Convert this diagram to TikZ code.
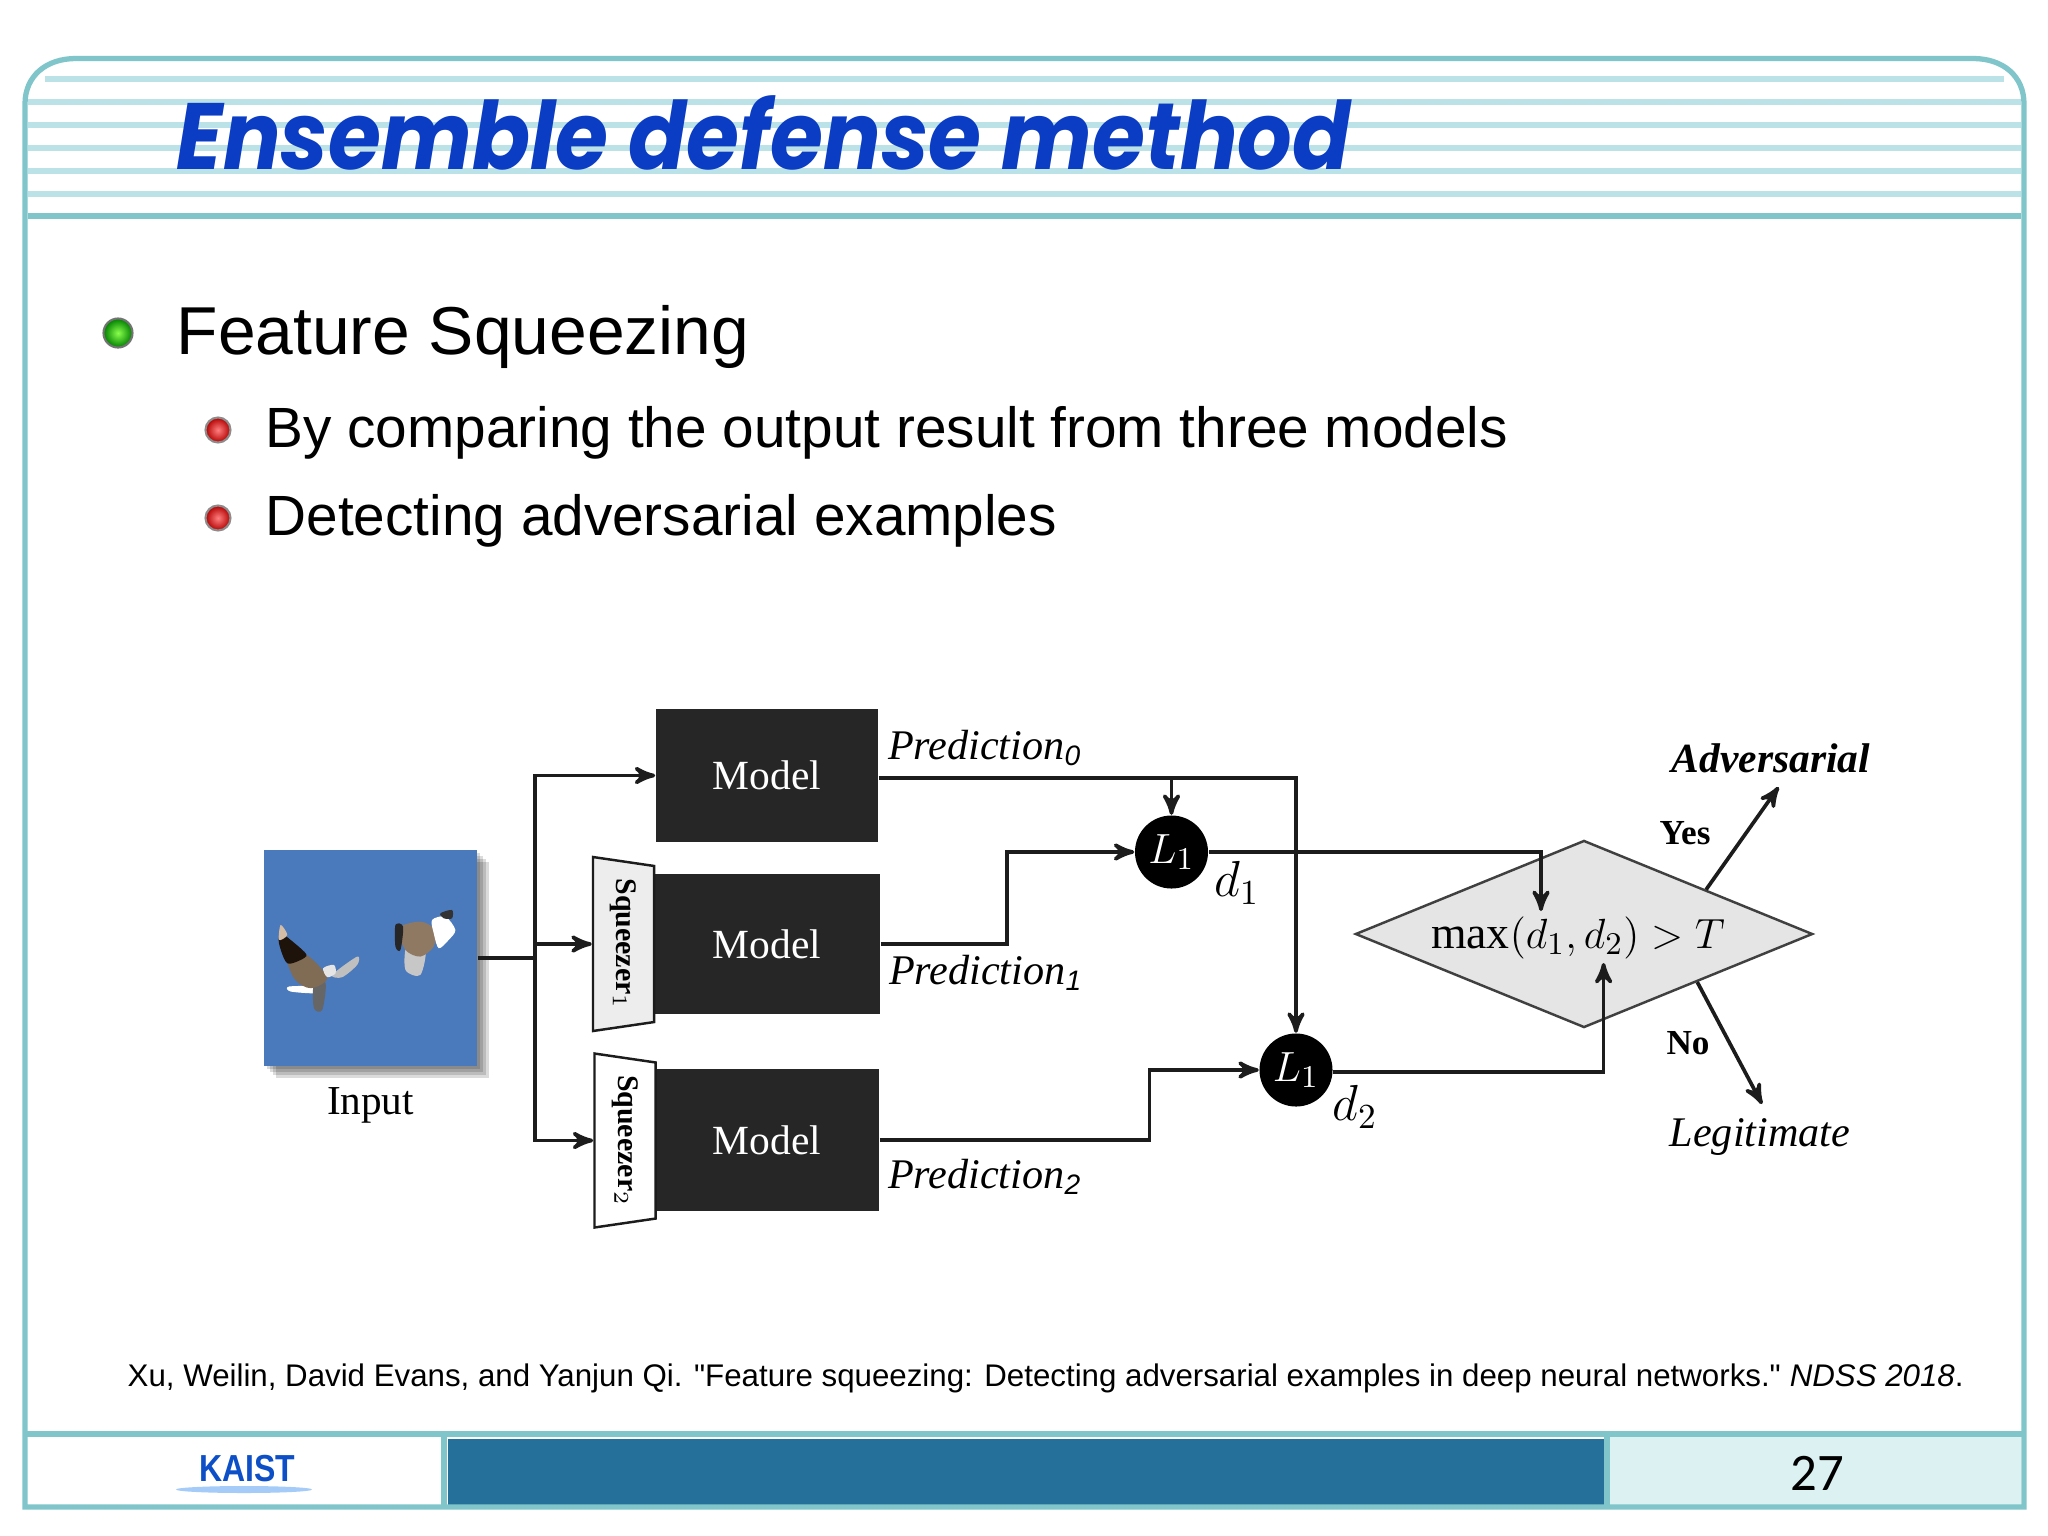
\documentclass[tikz,border=0pt]{standalone}
\usepackage{amsmath}
\usepackage{fontspec}
\setmainfont{Liberation Sans}
\newfontfamily\plainface{Liberation Sans}
\newfontfamily\serifface{Liberation Serif}
\newfontfamily\titleface{Poppins}
\newfontfamily\pageface{Carlito}
\usetikzlibrary{arrows}
\usetikzlibrary{calc}
\usetikzlibrary{positioning}
\usetikzlibrary{shapes.geometric}
\definecolor{frameteal}{HTML}{7FC5CA}
\definecolor{stripeteal}{HTML}{BBE2E6}
\definecolor{cellteal}{HTML}{DBF1F2}
\definecolor{barblue}{HTML}{24709B}
\definecolor{titleblue}{HTML}{0A3CC4}
\definecolor{kaistblue}{HTML}{0C4FC6}
\definecolor{kaistlight}{HTML}{A5CBF8}
\definecolor{skyblue}{HTML}{4A79BC}
\definecolor{modelgray}{HTML}{262626}
\definecolor{wirecol}{HTML}{1C1C1C}
\tikzset{
  frameline/.style={draw=frameteal, line width=1.5pt},
  stripe/.style={draw=stripeteal, line width=1.6pt},
  wire/.style={draw=wirecol, line width=1.05pt, >=stealth'},
  modelbox/.style={rectangle, fill=modelgray, text=white, inner sep=0pt, font=\serifface\fontsize{11.8}{14}\selectfont},
  squeezer/.style={trapezium, trapezium stretches=true, trapezium angle=74, rotate=-90, draw=wirecol, line width=0.7pt, inner sep=0pt, minimum width=1.74cm, minimum height=0.61cm, font=\serifface\bfseries\fontsize{8.5}{10}\selectfont},
  lossnode/.style={circle, fill=black, text=white, inner sep=0pt, minimum size=0.73cm, font=\fontsize{13}{15}\selectfont},
  caption/.style={inner sep=0pt, font=\serifface\itshape\fontsize{12}{14}\selectfont},
  verdict/.style={inner sep=0pt, font=\serifface\bfseries\fontsize{10}{12}\selectfont},
  bulletA/.style={circle, draw=black!55, line width=0.6pt, inner sep=0pt, minimum size=0.29cm, inner color=green!55!lime!70!white, outer color=green!50!black},
  bulletB/.style={circle, draw=black!45, line width=0.6pt, inner sep=0pt, minimum size=0.25cm, inner color=red!50!white, outer color=red!70!black},
  itemtext/.style={anchor=base west, inner sep=0pt}
}
\begin{document}
\begin{tikzpicture}[x=0.01cm, y=-0.01cm]
        \useasboundingbox (0,0) rectangle (2048,1536);
        \fill[white] (0,0) rectangle (2048,1536);

        % header stripes
        \draw[stripe] (45,79) -- (2004,79);
        \foreach \ypos in {102,125,148,171,194}
            \draw[stripe] (28,\ypos) -- (2021,\ypos);
        \draw[frameline] (28,216) -- (2021,216);

        % footer cells
        \fill[barblue] (448,1439) rectangle (1604,1505);
        \fill[cellteal] (1610,1437) rectangle (2021,1505);
        \draw[frameline] (25,1434) -- (2024,1434);
        \draw[frameline] (444,1434) -- (444,1507);
        \draw[frameline] (1607,1434) -- (1607,1507);
        \draw[frameline] (25,1507) -- (25,104) .. controls (25,76) and (46,58.5) .. (76,58.5) -- (1973,58.5) .. controls (2003,58.5) and (2024,76) .. (2024,104) -- (2024,1507) -- cycle;

        \node[itemtext, text=titleblue, xscale=0.91, font=\titleface\bfseries\itshape\fontsize{26.8}{30}\selectfont] (title) at (176,169) {Ensemble defense method};

        \node[bulletA] (b0) at (118,333) {};
        \node[itemtext, font=\fontsize{19.27}{23}\selectfont] (feat) at (176,354) {Feature Squeezing};
        \node[bulletB] (b1) at (218,430) {};
        \node[itemtext, font=\fontsize{16.13}{19}\selectfont] (item1) at (265,447) {By comparing the output result from three models};
        \node[bulletB] (b2) at (218,518) {};
        \node[itemtext, font=\fontsize{16.13}{19}\selectfont] (item2) at (265,535) {Detecting adversarial examples};

        % input picture
        \foreach \sh in {3,6,9,12}
            \fill[black, opacity=0.14] (264+\sh,850+\sh) rectangle (477+\sh,1066+\sh);
        \node[rectangle, fill=skyblue, inner sep=0pt, minimum width=2.13cm, minimum height=2.16cm] (input) at (370.5,958) {};
        \begin{scope}[shift={(264,890)}, x=0.003333cm, y=-0.003333cm]
            \fill[black!25!white] plot[smooth cycle] coordinates {(205,255) (280,200) (280,225) (235,262)};
            \fill[white] plot[smooth cycle] coordinates {(75,290) (160,290) (160,310) (80,305)};
            \fill[black!60!white] plot[smooth cycle] coordinates {(150,280) (185,280) (175,360) (150,355)};
            \fill[black!55!brown!75!white] plot[smooth cycle] coordinates {(60,170) (90,265) (140,295) (190,265) (135,200)};
            \fill[black!85!brown] plot[smooth cycle] coordinates {(50,130) (45,160) (70,220) (120,205) (125,190) (80,150)};
            \fill[black!15!brown!45!white] plot[smooth cycle] coordinates {(50,105) (70,135) (45,150)};
            \fill[black!10!white] plot[smooth cycle] coordinates {(178,235) (210,225) (215,250) (190,262)};
            \fill[black!22!white] plot[smooth cycle] coordinates {(430,165) (485,175) (470,255) (425,240)};
            \fill[black!50!brown!70!white] plot[smooth cycle] coordinates {(405,115) (470,95) (515,120) (510,170) (470,200) (425,180)};
            \fill[black!85] plot[smooth cycle] coordinates {(395,105) (418,110) (410,180) (395,170)};
            \fill[white] plot[smooth cycle] coordinates {(505,90) (545,80) (575,120) (555,150) (525,175) (510,130)};
            \fill[black!80] plot[smooth cycle] coordinates {(530,70) (565,60) (565,85) (540,85)};
        \end{scope}
        \node[caption, font=\serifface\fontsize{11.7}{14}\selectfont, below=0.2cm of input] (inlabel) {Input};

        % models
        \node[modelbox, minimum width=2.22cm, minimum height=1.32cm] (m0) at (767,775.5) {Model};
        \node[modelbox, minimum width=2.26cm, minimum height=1.40cm, below=0.31cm of m0] (m1) {Model};
        \node[modelbox, minimum width=2.24cm, minimum height=1.41cm, below=0.54cm of m1] (m2) {Model};
        \node[squeezer, fill=black!7] (sq1) at (623.5,944) {Squeezer$_1$};
        \node[squeezer, fill=white] (sq2) at (625,1140.5) {Squeezer$_2$};

        \node[lossnode] (la) at (1171.5,852) {$L_1$};
        \node[lossnode] (lb) at (1296,1070) {$L_1$};
        \node[diamond, fill=black!10, draw=black!75, line width=0.7pt, aspect=2.44, inner sep=0pt, minimum width=4.57cm, minimum height=1.87cm] (dec) at (1584,934) {};
        \node[inner sep=0pt, font=\fontsize{13}{15}\selectfont] (rule) at (1578,938) {{\serifface max}$(d_1,d_2)>T$};

        \coordinate (jn) at (535,958);
        \coordinate (tap) at ([yshift=-0.025cm]m0.east);
        \coordinate (b1m) at (1007,852);
        \coordinate (b2m) at (1149.5,1070);
        \coordinate (in1) at (1541,911);
        \coordinate (in2) at (1603.6,963);
        \coordinate (tipadv) at (1778.6,787);
        \coordinate (tipleg) at (1762,1104);

        \draw[wire] (input.east) -- (jn);
        \draw[wire,->] (jn) |- (m0.west);
        \draw[wire,->] (jn) |- (sq1.south);
        \draw[wire,->] (jn) |- (sq2.south);

        \draw[wire,->] (tap) -| (lb.north);
        \draw[wire,->] (la.north |- tap) -- (la.north);
        \draw[wire,->] (m1.east) -| (b1m) -- (la.west);
        \draw[wire,->] (m2.east) -| (b2m) -- (lb.west);
        \draw[wire,->] (la.east) -| (in1);
        \draw[wire,->] ([yshift=-0.02cm]lb.east) -| (in2);
        \draw[wire,->] (dec.20) -- (tipadv);
        \draw[wire,->] (dec.-23) -- (tipleg);

        \node[caption] (p0) at (985,748) {Prediction$_{\mathit{0}}$};
        \node[caption] (p1) at (986,973) {Prediction$_{\mathit{1}}$};
        \node[caption] (p2) at (985,1177) {Prediction$_{\mathit{2}}$};
        \node[inner sep=0pt, font=\fontsize{14}{16}\selectfont] (d1) at (1237,883) {$d_1$};
        \node[inner sep=0pt, font=\fontsize{14}{16}\selectfont] (d2) at (1355,1107) {$d_2$};
        \node[caption, font=\serifface\bfseries\itshape\fontsize{11.8}{14}\selectfont] (adv) at (1771,758) {Adversarial};
        \node[caption] (leg) at (1760,1137) {Legitimate};
        \node[verdict] (yes) at (1685,833) {Yes};
        \node[verdict] (no) at (1688,1043) {No};

        \node[inner sep=0pt, anchor=base west, font=\plainface\fontsize{8.89}{10}\selectfont] (cite) at (127,1386) {Xu, Weilin, David Evans, and Yanjun Qi. "Feature squeezing: Detecting adversarial examples in deep neural networks." \textit{NDSS 2018}.};

        % footer
        \node[inner sep=0pt, text=kaistblue, xscale=0.85, font=\bfseries\fontsize{10.7}{12}\selectfont] (kaist) at (247,1468.5) {KAIST};
        \fill[kaistlight] (244,1489.5) ellipse (68 and 3.5);
        \node[inner sep=0pt, font=\pageface\fontsize{15}{18}\selectfont] (page) at (1817,1473) {27};
\end{tikzpicture}
\end{document}
